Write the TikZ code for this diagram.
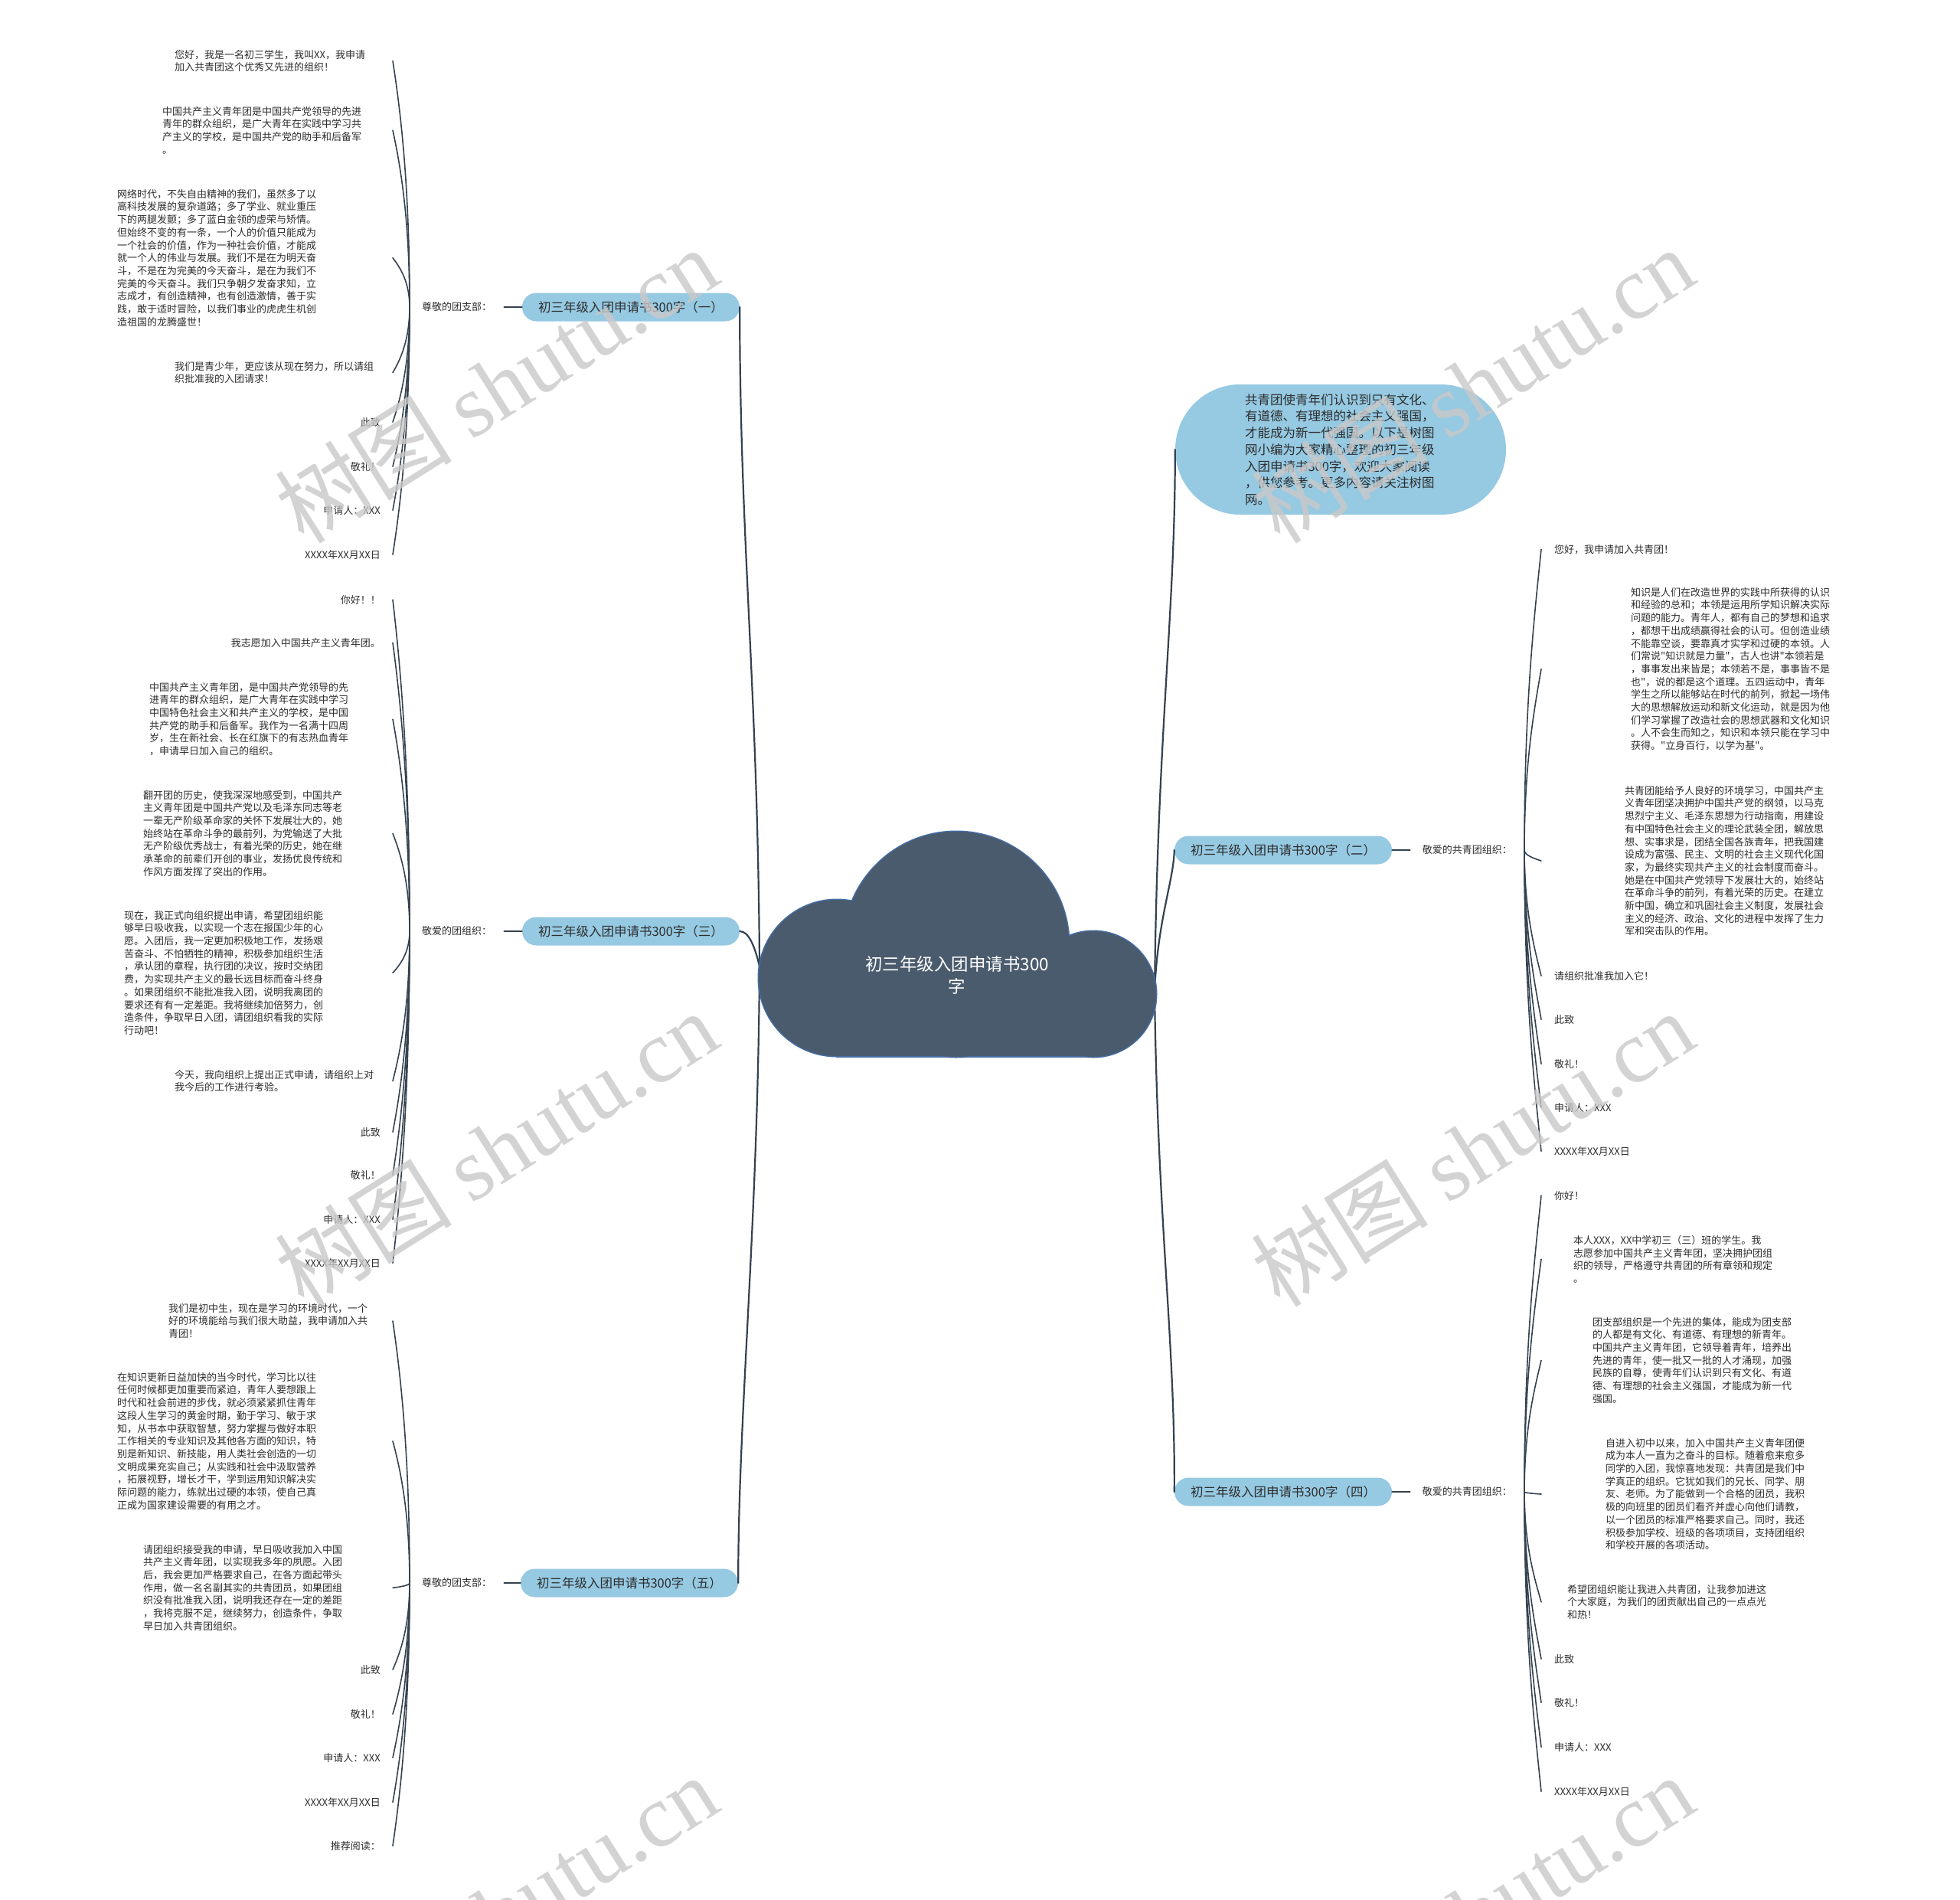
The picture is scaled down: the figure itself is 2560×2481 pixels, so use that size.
\documentclass[tikz,border=0pt]{standalone}
\usepackage{fontspec}
\setmainfont{Noto Sans CJK SC}[Ligatures=TeXOff]
\newfontfamily\wmserif{Liberation Serif}
\usetikzlibrary{calc}
\definecolor{linec}{RGB}{52,66,80}
\definecolor{pillc}{RGB}{150,201,226}
\definecolor{rootc}{RGB}{74,91,109}
\definecolor{rootb}{RGB}{70,110,165}
\definecolor{txt}{RGB}{45,45,45}
\definecolor{wmc}{RGB}{200,200,200}
\tikzset{
 leaf/.style={inner sep=0pt, align=left, text=txt, font=\fontsize{13}{16.7}\selectfont},
 leafN/.style={leaf, anchor=north west},
 leafS/.style={leaf, anchor=north east},
 lab/.style={inner xsep=16pt, inner ysep=3pt, text=txt, font=\fontsize{13}{16}\selectfont},
 pill/.style={fill=pillc, rounded corners=18.5pt, minimum width=284pt, minimum height=37pt, inner sep=0pt, text=txt, font=\fontsize{16.5}{20}\selectfont},
 mainline/.style={draw=linec, line width=2.2pt, line cap=round},
 leafline/.style={draw=linec, line width=1.6pt, line cap=round},
 wm/.style={text=wmc, opacity=0.8, rotate=32.2, inner sep=0pt, font=\fontsize{116}{116}\selectfont}
}
\newcommand\lleaf[2]{\draw[leafline] let \p1=(#1.west), \p2=(#2.east -| eL) in (\p1) .. controls (\x1,{\y1+0.5*(\y2-\y1)}) and ({\x2+10pt},{\y2+0.2*(\y1-\y2)}) .. (\p2);}
\newcommand\rleaf[2]{\draw[leafline] let \p1=(#1.east), \p2=(#2.west -| eR) in (\p1) .. controls (\x1,{\y1+0.5*(\y2-\y1)}) and ({\x2-8pt},{\y2+0.2*(\y1-\y2)}) .. (\p2);}
\begin{document}
\begin{tikzpicture}[x=1pt,y=-1pt]
\useasboundingbox (0,0) rectangle (2560,2481);
\fill[white] (0,0) rectangle (2560,2481);
\coordinate (eL) at (513,0);
\coordinate (eR) at (2013,0);
\coordinate (rootL) at (992,1262);
\coordinate (rootR) at (1508,1295);

% ---------- left column A ----------
\node[leafN] (A1) at (228,65) {您好，我是一名初三学生，我叫XX，我申请\\加入共青团这个优秀又先进的组织！};
\node[leafN] (A2) at (212,139) {中国共产主义青年团是中国共产党领导的先进\\青年的群众组织，是广大青年在实践中学习共\\产主义的学校，是中国共产党的助手和后备军\\。};
\node[leafN] (A3) at (153,247) {网络时代，不失自由精神的我们，虽然多了以\\高科技发展的复杂道路；多了学业、就业重压\\下的两腿发颤；多了蓝白金领的虚荣与矫情。\\但始终不变的有一条，一个人的价值只能成为\\一个社会的价值，作为一种社会价值，才能成\\就一个人的伟业与发展。我们不是在为明天奋\\斗，不是在为完美的今天奋斗，是在为我们不\\完美的今天奋斗。我们只争朝夕发奋求知，立\\志成才，有创造精神，也有创造激情，善于实\\践，敢于适时冒险，以我们事业的虎虎生机创\\造祖国的龙腾盛世！};
\node[leafN] (A4) at (228,472) {我们是青少年，更应该从现在努力，所以请组\\织批准我的入团请求！};
\node[leafS] (A5) at (497,545) {此致};
\node[leafS] (A6) at (497,603) {敬礼！};
\node[leafS] (A7) at (497,660) {申请人：XXX};
\node[leafS] (A8) at (497,718) {XXXX年XX月XX日};

% ---------- left column B ----------
\node[leafS] (B1) at (497,777) {你好！！};
\node[leafS] (B2) at (497,833) {我志愿加入中国共产主义青年团。};
\node[leafN] (B3) at (195,891) {中国共产主义青年团，是中国共产党领导的先\\进青年的群众组织，是广大青年在实践中学习\\中国特色社会主义和共产主义的学校，是中国\\共产党的助手和后备军。我作为一名满十四周\\岁，生在新社会、长在红旗下的有志热血青年\\，申请早日加入自己的组织。};
\node[leafN] (B4) at (187,1032) {翻开团的历史，使我深深地感受到，中国共产\\主义青年团是中国共产党以及毛泽东同志等老\\一辈无产阶级革命家的关怀下发展壮大的，她\\始终站在革命斗争的最前列，为党输送了大批\\无产阶级优秀战士，有着光荣的历史，她在继\\承革命的前辈们开创的事业，发扬优良传统和\\作风方面发挥了突出的作用。};
\node[leafN] (B5) at (162,1189) {现在，我正式向组织提出申请，希望团组织能\\够早日吸收我，以实现一个志在报国少年的心\\愿。入团后，我一定更加积极地工作，发扬艰\\苦奋斗、不怕牺牲的精神，积极参加组织生活\\，承认团的章程，执行团的决议，按时交纳团\\费，为实现共产主义的最长远目标而奋斗终身\\。如果团组织不能批准我入团，说明我离团的\\要求还有有一定差距。我将继续加倍努力，创\\造条件，争取早日入团，请团组织看我的实际\\行动吧！};
\node[leafN] (B6) at (228,1397) {今天，我向组织上提出正式申请，请组织上对\\我今后的工作进行考验。};
\node[leafS] (B7) at (497,1472) {此致};
\node[leafS] (B8) at (497,1528) {敬礼！};
\node[leafS] (B9) at (497,1586) {申请人：XXX};
\node[leafS] (B10) at (497,1643) {XXXX年XX月XX日};

% ---------- left column C ----------
\node[leafN] (C1) at (220,1702) {我们是初中生，现在是学习的环境时代，一个\\好的环境能给与我们很大助益，我申请加入共\\青团！};
\node[leafN] (C2) at (153,1792) {在知识更新日益加快的当今时代，学习比以往\\任何时候都更加重要而紧迫，青年人要想跟上\\时代和社会前进的步伐，就必须紧紧抓住青年\\这段人生学习的黄金时期，勤于学习、敏于求\\知，从书本中获取智慧，努力掌握与做好本职\\工作相关的专业知识及其他各方面的知识，特\\别是新知识、新技能，用人类社会创造的一切\\文明成果充实自己；从实践和社会中汲取营养\\，拓展视野，增长才干，学到运用知识解决实\\际问题的能力，练就出过硬的本领，使自己真\\正成为国家建设需要的有用之才。};
\node[leafN] (C3) at (187,2017) {请团组织接受我的申请，早日吸收我加入中国\\共产主义青年团，以实现我多年的夙愿。入团\\后，我会更加严格要求自己，在各方面起带头\\作用，做一名名副其实的共青团员，如果团组\\织没有批准我入团，说明我还存在一定的差距\\，我将克服不足，继续努力，创造条件，争取\\早日加入共青团组织。};
\node[leafS] (C4) at (497,2174) {此致};
\node[leafS] (C5) at (497,2232) {敬礼！};
\node[leafS] (C6) at (497,2289) {申请人：XXX};
\node[leafS] (C7) at (497,2347) {XXXX年XX月XX日};
\node[leafS] (C8) at (497,2404) {推荐阅读：};

% ---------- right column R ----------
\node[leafN] (R1) at (2030,711) {您好，我申请加入共青团！};
\node[leafN] (R2) at (2130,767) {知识是人们在改造世界的实践中所获得的认识\\和经验的总和；本领是运用所学知识解决实际\\问题的能力。青年人，都有自己的梦想和追求\\，都想干出成绩赢得社会的认可。但创造业绩\\不能靠空谈，要靠真才实学和过硬的本领。人\\们常说"知识就是力量"，古人也讲"本领若是\\，事事发出来皆是；本领若不是，事事皆不是\\也"，说的都是这个道理。五四运动中，青年\\学生之所以能够站在时代的前列，掀起一场伟\\大的思想解放运动和新文化运动，就是因为他\\们学习掌握了改造社会的思想武器和文化知识\\。人不会生而知之，知识和本领只能在学习中\\获得。"立身百行，以学为基"。};
\node[leafN] (R3) at (2122,1026) {共青团能给予人良好的环境学习，中国共产主\\义青年团坚决拥护中国共产党的纲领，以马克\\思烈宁主义、毛泽东思想为行动指南，用建设\\有中国特色社会主义的理论武装全团，解放思\\想、实事求是，团结全国各族青年，把我国建\\设成为富强、民主、文明的社会主义现代化国\\家，为最终实现共产主义的社会制度而奋斗。\\她是在中国共产党领导下发展壮大的，始终站\\在革命斗争的前列，有着光荣的历史。在建立\\新中国，确立和巩固社会主义制度，发展社会\\主义的经济、政治、文化的进程中发挥了生力\\军和突击队的作用。};
\node[leafN] (R4) at (2030,1268) {请组织批准我加入它！};
\node[leafN] (R5) at (2030,1325) {此致};
\node[leafN] (R6) at (2030,1383) {敬礼！};
\node[leafN] (R7) at (2030,1440) {申请人：XXX};
\node[leafN] (R8) at (2030,1497) {XXXX年XX月XX日};

% ---------- right column D ----------
\node[leafN] (D1) at (2030,1555) {你好！};
\node[leafN] (D2) at (2055,1613) {本人XXX，XX中学初三（三）班的学生。我\\志愿参加中国共产主义青年团，坚决拥护团组\\织的领导，严格遵守共青团的所有章领和规定\\。};
\node[leafN] (D3) at (2080,1720) {团支部组织是一个先进的集体，能成为团支部\\的人都是有文化、有道德、有理想的新青年。\\中国共产主义青年团，它领导着青年，培养出\\先进的青年，使一批又一批的人才涌现，加强\\民族的自尊，使青年们认识到只有文化、有道\\德、有理想的社会主义强国，才能成为新一代\\强国。};
\node[leafN] (D4) at (2097,1878) {自进入初中以来，加入中国共产主义青年团便\\成为本人一直为之奋斗的目标。随着愈来愈多\\同学的入团，我惊喜地发现：共青团是我们中\\学真正的组织。它犹如我们的兄长、同学、朋\\友、老师。为了能做到一个合格的团员，我积\\极的向班里的团员们看齐并虚心向他们请教，\\以一个团员的标准严格要求自己。同时，我还\\积极参加学校、班级的各项项目，支持团组织\\和学校开展的各项活动。};
\node[leafN] (D5) at (2047,2069) {希望团组织能让我进入共青团，让我参加进这\\个大家庭，为我们的团贡献出自己的一点点光\\和热！};
\node[leafN] (D6) at (2030,2160) {此致};
\node[leafN] (D7) at (2030,2217) {敬礼！};
\node[leafN] (D8) at (2030,2275) {申请人：XXX};
\node[leafN] (D9) at (2030,2333) {XXXX年XX月XX日};

% ---------- labels and branch boxes ----------
\node[lab, anchor=west] (labA) at (535,401) {尊敬的团支部：};
\node[lab, anchor=west] (labB) at (535,1216) {敬爱的团组织：};
\node[lab, anchor=west] (labC) at (535,2067) {尊敬的团支部：};
\node[lab, anchor=east] (lab2) at (1991,1110) {敬爱的共青团组织：};
\node[lab, anchor=east] (lab4) at (1991,1948) {敬爱的共青团组织：};

\node[pill] (bA) at (824,401) {初三年级入团申请书300字（一）};
\node[pill] (bB) at (824,1216) {初三年级入团申请书300字（三）};
\node[pill] (bC) at (822,2067) {初三年级入团申请书300字（五）};
\node[pill] (b2) at (1676,1110) {初三年级入团申请书300字（二）};
\node[pill] (b4) at (1676,1948) {初三年级入团申请书300字（四）};

\node[fill=pillc, rounded corners=85pt, minimum width=432pt, minimum height=170pt, text width=250pt, align=left, text=txt, inner sep=0pt, font=\fontsize{16.5}{21.7}\selectfont] (bub) at (1751,587) {共青团使青年们认识到只有文化、\\有道德、有理想的社会主义强国，\\才能成为新一代强国。以下是树图\\网小编为大家精心整理的初三年级\\入团申请书300字，欢迎大家阅读\\，供您参考。更多内容请关注树图\\网。};

% ---------- connectors ----------
\draw[mainline] (rootL) .. controls (990,900) and (966,700) .. (bA.east);
\draw[mainline] (rootL) .. controls (986,1236) and (978,1216) .. (bB.east);
\draw[mainline] (rootL) .. controls (990,1600) and (964,1850) .. (bC.east);
\draw[mainline] (rootR) .. controls (1512,950) and (1535,800) .. (bub.west);
\draw[mainline] (rootR) .. controls (1512,1200) and (1533,1150) .. (b2.west);
\draw[mainline] (rootR) .. controls (1512,1600) and (1535,1750) .. (b4.west);

\draw[mainline, line width=1.8pt] (labA.east) -- (bA.west);
\draw[mainline, line width=1.8pt] (labB.east) -- (bB.west);
\draw[mainline, line width=1.8pt] (labC.east) -- (bC.west);
\draw[mainline, line width=1.8pt] (b2.east) -- (lab2.west);
\draw[mainline, line width=1.8pt] (b4.east) -- (lab4.west);

\foreach \lf in {A1,A2,A3,A4,A5,A6,A7,A8} {\lleaf{labA}{\lf}}
\foreach \lf in {B1,B2,B3,B4,B5,B6,B7,B8,B9,B10} {\lleaf{labB}{\lf}}
\foreach \lf in {C1,C2,C3,C4,C5,C6,C7,C8} {\lleaf{labC}{\lf}}
\foreach \lf in {R1,R2,R3,R4,R5,R6,R7,R8} {\rleaf{lab2}{\lf}}
\foreach \lf in {D1,D2,D3,D4,D5,D6,D7,D8,D9} {\rleaf{lab4}{\lf}}

% ---------- central cloud ----------
\foreach \cx/\cy/\r in {1249/1233/147, 1093/1277/102, 1428/1298/82}
  \draw[rootb, line width=3pt] (\cx,\cy) circle[radius=\r pt];
\draw[rootb, line width=3pt] (1093,1250) rectangle (1428,1379);
\foreach \cx/\cy/\r in {1249/1233/147, 1093/1277/102, 1428/1298/82}
  \fill[rootc] (\cx,\cy) circle[radius=\r pt];
\fill[rootc] (1093,1250) rectangle (1428,1379);
\node[text=white, align=center, inner sep=0pt, font=\fontsize{22.5}{29}\selectfont] (root) at (1250,1273) {初三年级入团申请书300\\字};

% ---------- watermarks ----------
\node[wm] (wm1) at (648,503) {树图 {\wmserif shutu.cn}};
\node[wm] (wm2) at (648,1500) {树图 {\wmserif shutu.cn}};
\node[wm] (wm3) at (648,2498) {树图 {\wmserif shutu.cn}};
\node[wm] (wm4) at (1923,503) {树图 {\wmserif shutu.cn}};
\node[wm] (wm5) at (1923,1500) {树图 {\wmserif shutu.cn}};
\node[wm] (wm6) at (1923,2498) {树图 {\wmserif shutu.cn}};
\end{tikzpicture}
\end{document}
